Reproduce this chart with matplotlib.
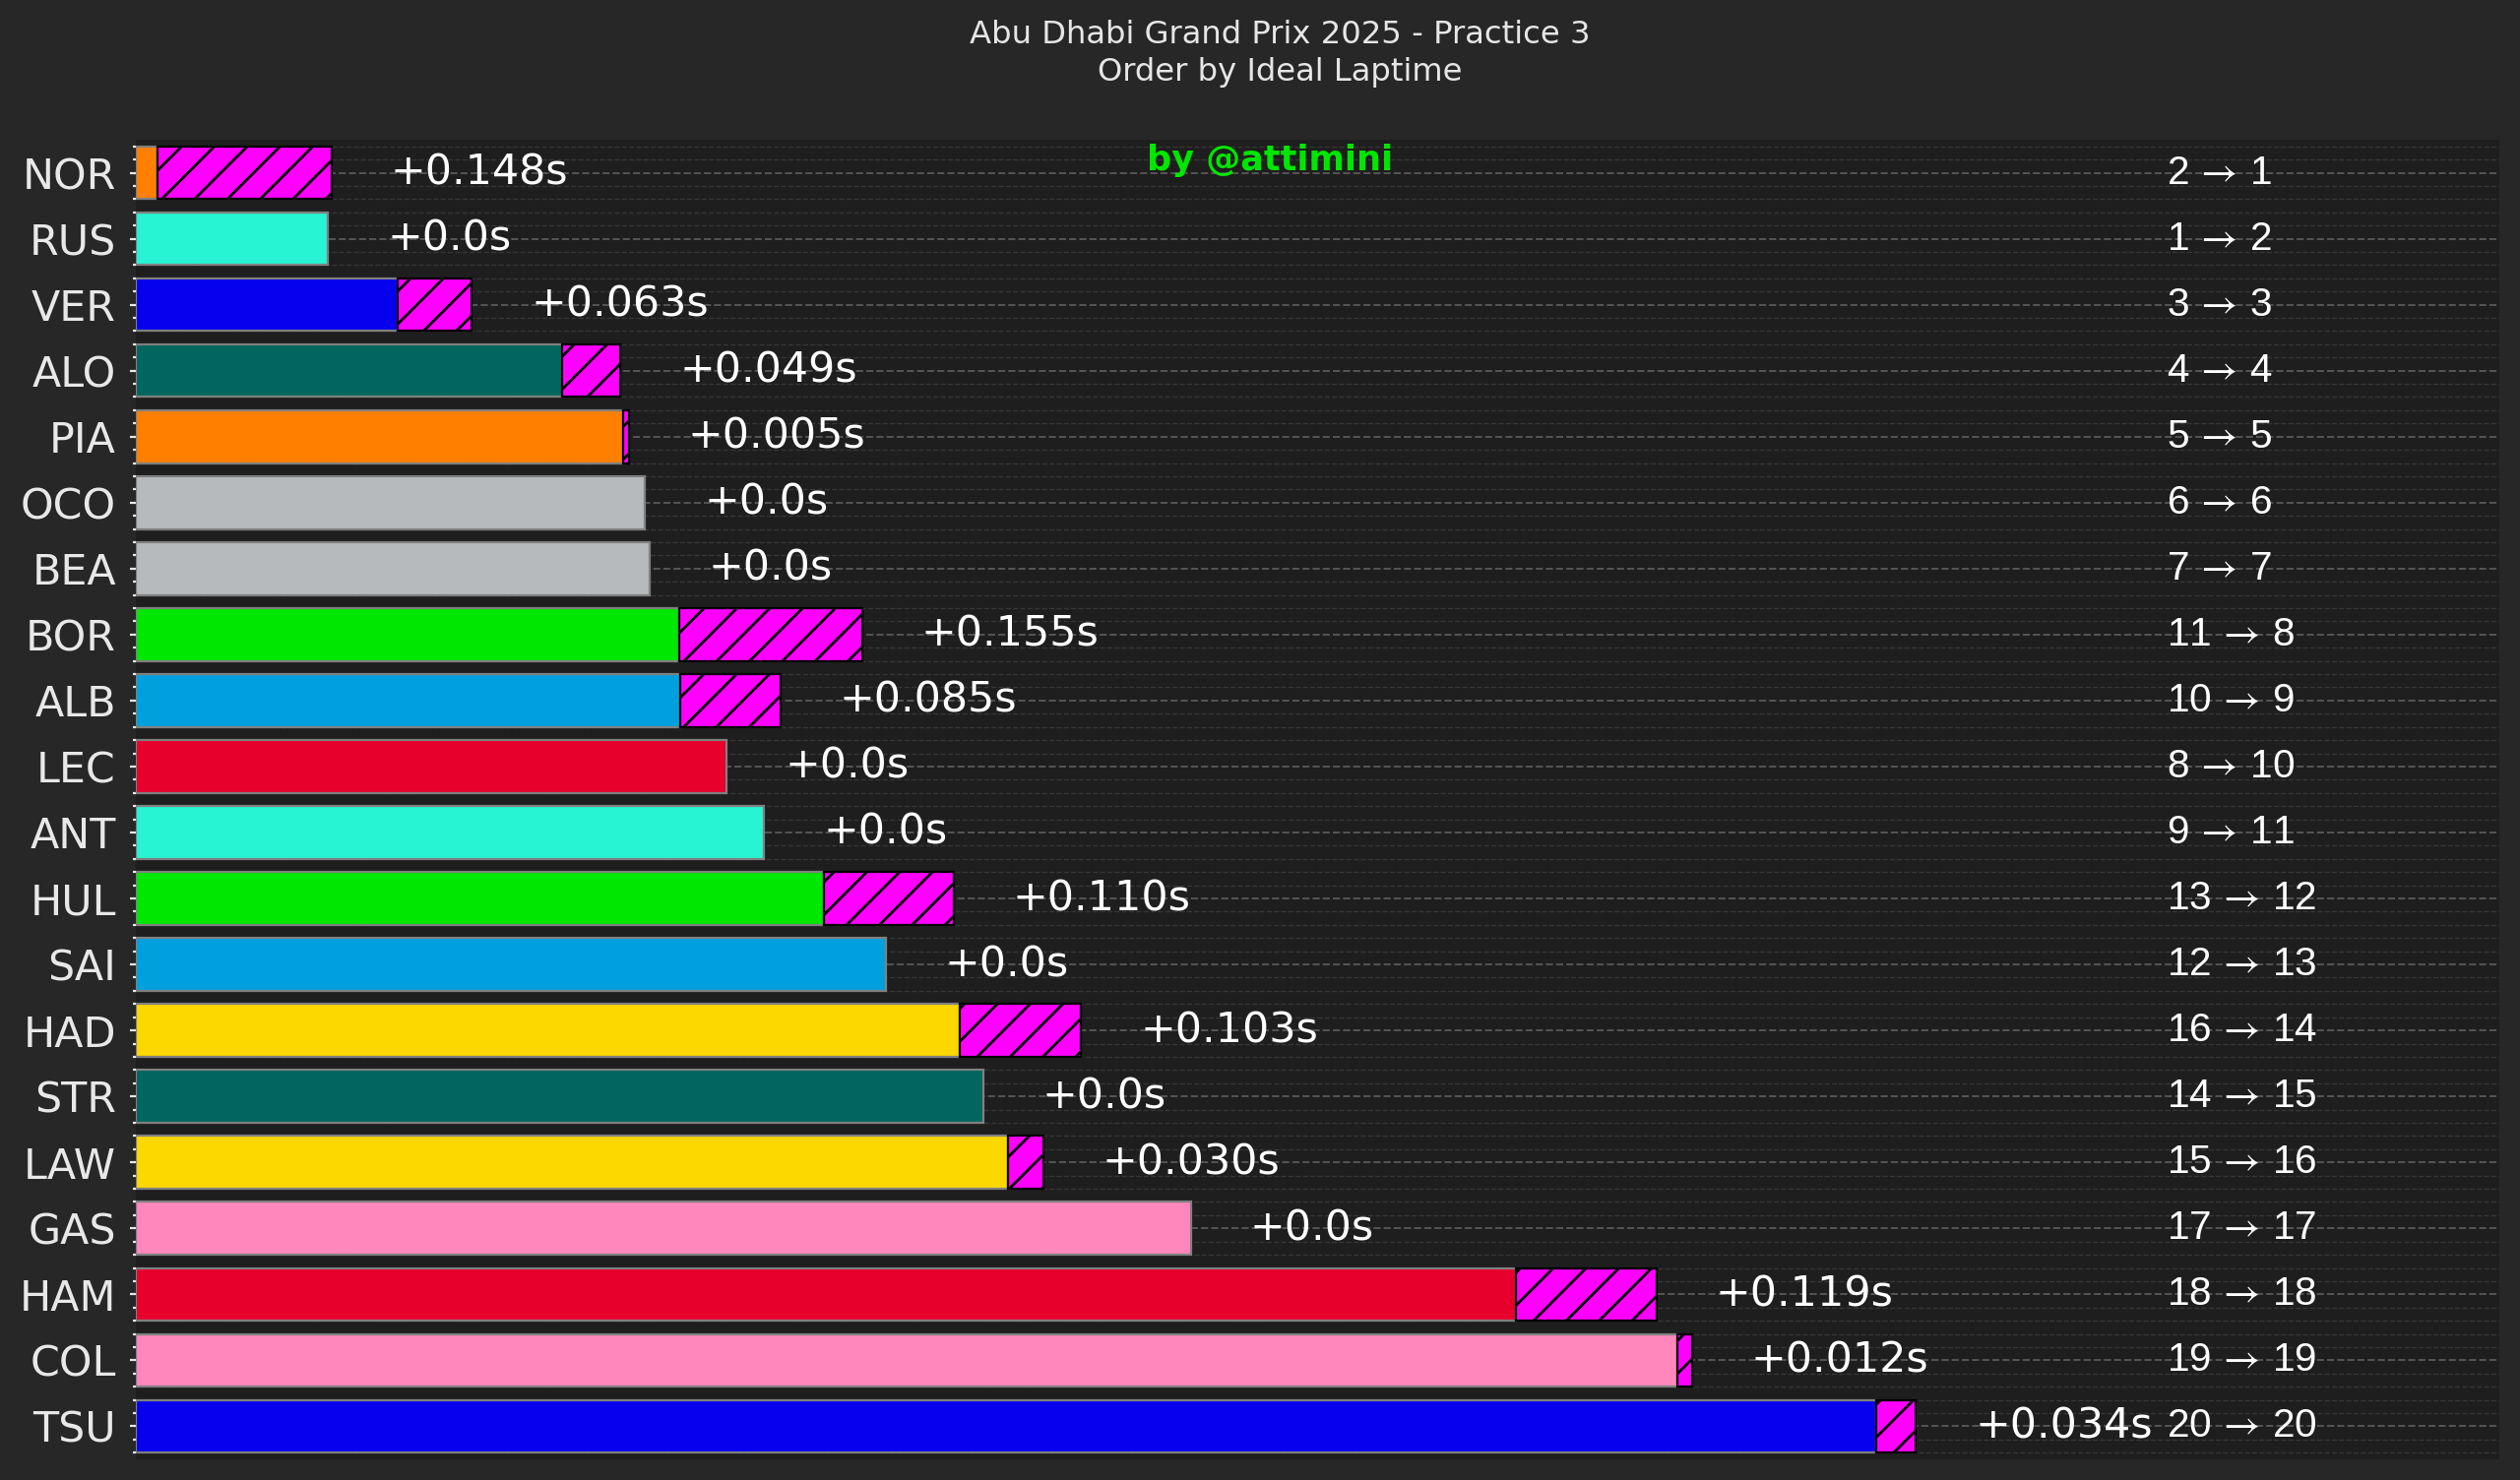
import matplotlib
matplotlib.use("Agg")
import matplotlib.pyplot as plt
from matplotlib.ticker import MultipleLocator

# ---- data ----
drivers = ["NOR", "RUS", "VER", "ALO", "PIA", "OCO", "BEA", "BOR", "ALB", "LEC",
           "ANT", "HUL", "SAI", "HAD", "STR", "LAW", "GAS", "HAM", "COL", "TSU"]
# ideal laptime gap to the fastest ideal lap (s)
ideal_gap = [0.000, 0.145, 0.204, 0.344, 0.395, 0.414, 0.418, 0.443, 0.444, 0.483,
             0.515, 0.566, 0.618, 0.681, 0.701, 0.722, 0.877, 1.153, 1.290, 1.458]
# time lost vs ideal lap (s)
lost = [0.148, 0.0, 0.063, 0.049, 0.005, 0.0, 0.0, 0.155, 0.085, 0.0,
        0.0, 0.110, 0.0, 0.103, 0.0, 0.030, 0.0, 0.119, 0.012, 0.034]
session_rank = [2, 1, 3, 4, 5, 6, 7, 11, 10, 8, 9, 13, 12, 16, 14, 15, 17, 18, 19, 20]
ideal_rank = list(range(1, 21))
colors = ["#FF8000", "#27F4D2", "#0600EF", "#00665E", "#FF8000", "#B6BABD", "#B6BABD",
          "#00E701", "#00A0DE", "#E8002D", "#27F4D2", "#00E701", "#00A0DE", "#FCD700",
          "#00665E", "#FCD700", "#FF87BC", "#E8002D", "#FF87BC", "#0600EF"]

title = "Abu Dhabi Grand Prix 2025 - Practice 3\nOrder by Ideal Laptime"

# ---- figure ----
FIG_BG = "#272727"
AX_BG = "#1e1e1e"
plt.rcParams["hatch.linewidth"] = 1.0
plt.rcParams["mathtext.fontset"] = "stix"

fig = plt.figure(figsize=(12.8, 7.52), dpi=200, facecolor=FIG_BG)
ax = fig.add_axes([0.0539, 0.0140, 0.9379, 0.8916])
ax.set_facecolor(AX_BG)

x_left = -0.018
actual = [i + l for i, l in zip(ideal_gap, lost)]
x_right = max(actual) + 0.495
y = list(range(len(drivers)))

ax.barh(y, [g - x_left for g in ideal_gap], left=x_left, height=0.8,
        color=colors, edgecolor="#808080", linewidth=0.8, zorder=3)

for yi, g, l in zip(y, ideal_gap, lost):
    if l > 0:
        ax.barh(yi, l, left=g, height=0.8, color="#FF00FF", edgecolor="black",
                hatch="//", linewidth=0.8, zorder=4)

for yi, a, l in zip(y, actual, lost):
    lab = f"+{l:.3f}s" if l > 0 else "+0.0s"
    ax.text(a + 0.05, yi, lab, color="white", fontsize=15.4, va="center",
            ha="left", family="DejaVu Sans", zorder=5)

rank_x = max(actual) + 0.213
for yi, sr, ir in zip(y, session_rank, ideal_rank):
    ax.text(rank_x, yi, f"{sr}$\\:\\rightarrow\\:${ir}", color="white", fontsize=14.6,
            va="center", ha="left", family=["Liberation Sans", "DejaVu Sans"], zorder=5)

ax.set_xlim(x_left, x_right)
ax.set_ylim(len(drivers) - 0.5, -0.5)
ax.set_xticks([])
ax.set_yticks(y, labels=drivers)
ax.yaxis.set_minor_locator(MultipleLocator(0.2))
ax.tick_params(axis="y", which="major", colors="#e8e8e8", labelsize=15.4,
               length=2.2, width=0.8, pad=5)
ax.tick_params(axis="y", which="minor", colors="#e8e8e8", length=1.1, width=0.8)
for s in ax.spines.values():
    s.set_visible(False)

ax.set_axisbelow(True)
ax.grid(which="major", axis="y", linestyle="--", color="#555555", linewidth=0.7, zorder=0)
ax.grid(which="minor", axis="y", linestyle="--", color="#363636", linewidth=0.5, zorder=0)
ax.grid(which="both", axis="x", visible=False)

fig.text(0.508, 0.9635, title, ha="center", va="center", color="#e6e6e6",
         fontsize=11.6, family="DejaVu Sans", linespacing=1.3)
ax.text(0.504, 0.8915, "by @attimini", transform=fig.transFigure, ha="center",
        va="center", color="#00E600", fontsize=12.6, fontweight="bold",
        family="DejaVu Sans", zorder=6)

fig.savefig("out.png", dpi=200, facecolor=FIG_BG)
